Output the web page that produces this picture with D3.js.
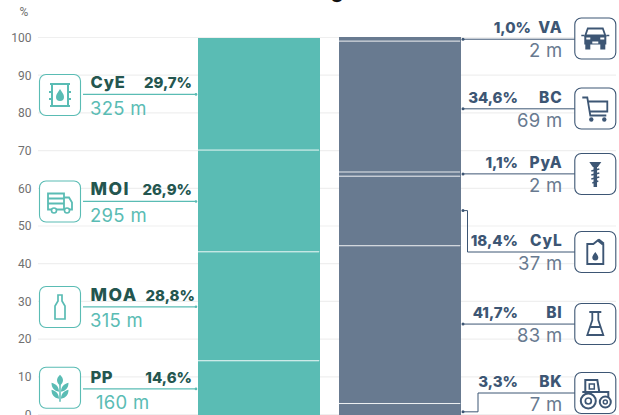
<!DOCTYPE html>
<html><head><meta charset="utf-8">
<script src="https://cdn.jsdelivr.net/npm/d3@7"></script>
<style>html,body{margin:0;padding:0;background:#fff;overflow:hidden}svg{display:block}
text{font-family:Inter,sans-serif}</style></head><body><div id="c"></div>
<script>
const ticks=[0,10,20,30,40,50,60,70,80,90,100];
const leftNames=["PP","MOA","MOI","CyE"];
const leftShares=[14.6,28.8,26.9,29.7];
const leftMetres=["160 m","315 m","295 m","325 m"];
const leftLabels=["14,6%","28,8%","26,9%","29,7%"];
const rightNames=["BK","BI","CyL","PyA","BC","VA"];
const rightShares=[3.3,41.7,18.4,1.1,34.6,1.0];
const rightMetres=["7 m","83 m","37 m","2 m","69 m","2 m"];
const rightLabels=["3,3%","41,7%","18,4%","1,1%","34,6%","1,0%"];
const teal="#5abcb4",slate="#687a90",darkTeal="#24564f",darkSlate="#3d5674";
const W=619,H=415;
const svg=d3.select("#c").append("svg").attr("width",W).attr("height",H);
const y=d3.scaleLinear().domain([0,100]).range([414.5,37.5]);
const yBar=d3.scaleLinear().domain([0,100]).range([416,37.7]);
svg.append("text").attr("x",337).attr("y",-2).attr("text-anchor","middle").attr("font-size",20).attr("font-weight",700).attr("fill","#111").text("g");
svg.append("g").selectAll("line").data(ticks).join("line").attr("x1",38).attr("x2",616).attr("y1",d=>y(d)).attr("y2",d=>y(d)).attr("stroke","#efefef").attr("stroke-width",1.2);
const ax=svg.append("g").attr("transform","translate(31.500,0)").call(d3.axisLeft(y).tickValues(ticks).tickSize(0).tickPadding(0));
ax.select(".domain").remove();
ax.selectAll("text").style("font-family","Roboto").attr("font-size",12).attr("fill","#707070");
svg.append("text").attr("x",24).attr("y",16).attr("text-anchor","middle").attr("font-size",12).attr("fill","#707070").style("font-family","Roboto").text("%");
function stack(vals){let c=0;return vals.map(v=>{const s=[c,c+v];c+=v;return s;});}
const ls=stack(leftShares),rs=stack(rightShares);
function bars(st,x0,x1,col,top){
  svg.append("g").selectAll("rect").data(st).join("rect").attr("x",x0).attr("width",x1-x0).attr("y",d=>d[1]>=99.9?top:yBar(d[1])).attr("height",d=>yBar(d[0])-(d[1]>=99.9?top:yBar(d[1]))).attr("fill",col);
  svg.append("g").selectAll("line").data(st.slice(0,-1)).join("line").attr("x1",x0).attr("x2",x1-1).attr("y1",d=>yBar(d[1])).attr("y2",d=>yBar(d[1])).attr("stroke","#fff").attr("stroke-opacity",.85).attr("stroke-width",1);
}
bars(ls,198,320,teal,38);bars(rs,339,461,slate,37);
const icons={
 barrel:'<path d="M-10-11H10M-10 11H10M-8-11V11M8-11V11M-11-3H-8M8-3H11M-11 4H-8M8 4H11" fill="none" stroke-width="2"/><path d="M0-6C2-2.500 4-1 4 2A4 4 0 0 1-4 2C-4-1-2-2.500 0-6Z" stroke="none" class="f"/>',
 truck:'<path d="M-12-8H4V8H-12ZM-12-3H4M-12 2H4M4-4H9L12 1V8H4" fill="none" stroke-width="1.800"/><circle cx="-6" cy="9" r="2.500" class="w" stroke-width="1.600"/><circle cx="7" cy="9" r="2.500" class="w" stroke-width="1.600"/>',
 bottle:'<path d="M-2-12H2V-6L5-1V12H-5V-1L-2-6Z" fill="none" stroke-width="1.700"/>',
 wheat:'<path d="M0 14V-3" fill="none" stroke-width="1.500"/><path d="M0-13C4-9 4-6 0-2C-4-6-4-9 0-13ZM-1 4C-6 3-8.500 0-8.500-5C-4-4-1-1-1 4ZM1 4C6 3 8.500 0 8.500-5C4-4 1-1 1 4ZM-1 11C-6 10-8.500 7-8.500 2C-4 3-1 6-1 11ZM1 11C6 10 8.500 7 8.500 2C4 3 1 6 1 11Z" stroke="none" class="f"/>',
 car:'<path d="M-10-3H10L7.500-10H-7.500Z" fill="none" stroke-width="1.800"/><path d="M-11-3H11V6H-11ZM-10 6H-5V11H-10ZM5 6H10V11H5Z" stroke="none" class="f"/><path d="M-9 0H-5M5 0H9M-3 4H3" stroke="#fff" stroke-width="1.800"/><path d="M-14-3H-11M11-3H14" fill="none" stroke-width="1.500"/>',
 cart:'<path d="M-13-11H-8L-5 7H11M-7-7H12V3H-6" fill="none" stroke-width="1.800"/><circle cx="-4" cy="11" r="2.200" stroke="none" class="f"/><circle cx="9" cy="11" r="2.200" stroke="none" class="f"/>',
 screw:'<path d="M-6-12H6L2.500-7H-2.500Z" stroke="none" class="f"/><path d="M0-7V13" fill="none" stroke-width="3.500"/><path d="M-4-3L4-5M-4 1L4-1M-4 5L4 3M-3 9L3 7" fill="none" stroke-width="1.500"/>',
 can:'<path d="M-8-8H-2L3-12L8-8V12H-8Z" fill="none" stroke-width="1.900"/><path d="M0 0C2 3 3 4 3 5.500A3 3 0 0 1-3 5.500C-3 4-2 3 0 0Z" stroke="none" class="f"/><path d="M3-12L8-8" stroke-width="3.500"/>',
 flask:'<path d="M-6-12H6M-3-12V-4L-8 11H8L3-4V-12M-6 3H6" fill="none" stroke-width="1.800"/>',
 tractor:'<path d="M-10-1V-13H2L4-1M-13-1H13V5" fill="none" stroke-width="2"/><path d="M-6-9H-1V-4H-6Z" fill="none" stroke-width="1.500"/><circle cx="-7" cy="8" r="7.500" class="w" stroke-width="2"/><circle cx="-7" cy="8" r="3" class="w" stroke-width="1.700"/><circle cx="10" cy="9" r="5.500" class="w" stroke-width="2"/><circle cx="10" cy="9" r="2" class="w" stroke-width="1.500"/>'
};
function icon(cx,cy,name,col){
 const g=svg.append("g").attr("transform",`translate(${cx},${cy})`);
 g.append("rect").attr("x",-20.5).attr("y",-20.5).attr("width",41).attr("height",41).attr("rx",6.5).attr("fill","#fff").attr("stroke",col).attr("stroke-width",1.1);
 const i=g.append("g").attr("stroke",col).html(icons[name]);
 i.selectAll(".f").attr("fill",col);i.selectAll(".w").attr("fill","#fff");
}
function txt(x,yy,s,size,weight,col,anchor,ls){return svg.append("text").attr("x",x).attr("y",yy).attr("font-size",size).attr("font-weight",weight).attr("fill",col).attr("text-anchor",anchor||"start").attr("letter-spacing",ls||0).text(s);}
// left
const leftIcons=["wheat","bottle","truck","barrel"];
const leftIconY=[387.7,307,201.500,95];
const leftNameSize=[16.500,17.500,17.500,16.500],leftNameSpacing=[.5,1.500,1.500,.8];
const leftMetreX=[96,90,90,90];
const leftPctX=[192,195,192,192];
leftNames.forEach((n,i)=>{
 const ly=yBar((ls[i][0]+ls[i][1])/2)+.5;
 svg.append("line").attr("x1",83).attr("x2",196).attr("y1",ly).attr("y2",ly).attr("stroke",teal).attr("stroke-width",1.2);
 svg.append("circle").attr("cx",196).attr("cy",ly).attr("r",1.3).attr("fill",teal);
 icon(60,leftIconY[i],leftIcons[i],teal);
 txt(90.5,ly-6,n,leftNameSize[i],800,darkTeal,"start",leftNameSpacing[i]);
 txt(leftPctX[i],ly-6,leftLabels[i],15,800,darkTeal,"end");
 txt(leftMetreX[i],ly+20.5,leftMetres[i],18.500,400,teal,"start",.3);
});
// right
const rightIcons=["tractor","flask","can","screw","cart","car"];
const rightIconY=[393,324,252,174,108.500,38.500];
const rightAnchor=[1.1,24.3,54.3,64,81.2,99.6];
const rightElbow=[478,null,467.500,null,null,null];
const rightPctX=[518,518,518,518,518,531];
rightNames.forEach((n,i)=>{
 const ay=yBar(rightAnchor[i]),ex=rightElbow[i],ly=ex?rightIconY[i]:ay;
 const d=d3.path();d.moveTo(463,ay);
 if(ex){d.lineTo(ex,ay);d.lineTo(ex,ly);}
 d.lineTo(575,ly);
 svg.append("path").attr("d",d.toString()).attr("fill","none").attr("stroke",darkSlate).attr("stroke-width",1);
 svg.append("circle").attr("cx",463).attr("cy",ay).attr("r",1.5).attr("fill",darkSlate);
 icon(595.300,rightIconY[i],rightIcons[i],darkSlate);
 txt(562.500,ly-6,n,15.500,800,darkSlate,"end",.8);
 txt(rightPctX[i],ly-6,rightLabels[i],15,800,darkSlate,"end");
 txt(562.500,ly+18,rightMetres[i],18.500,400,slate,"end",.3);
});
</script></body></html>
